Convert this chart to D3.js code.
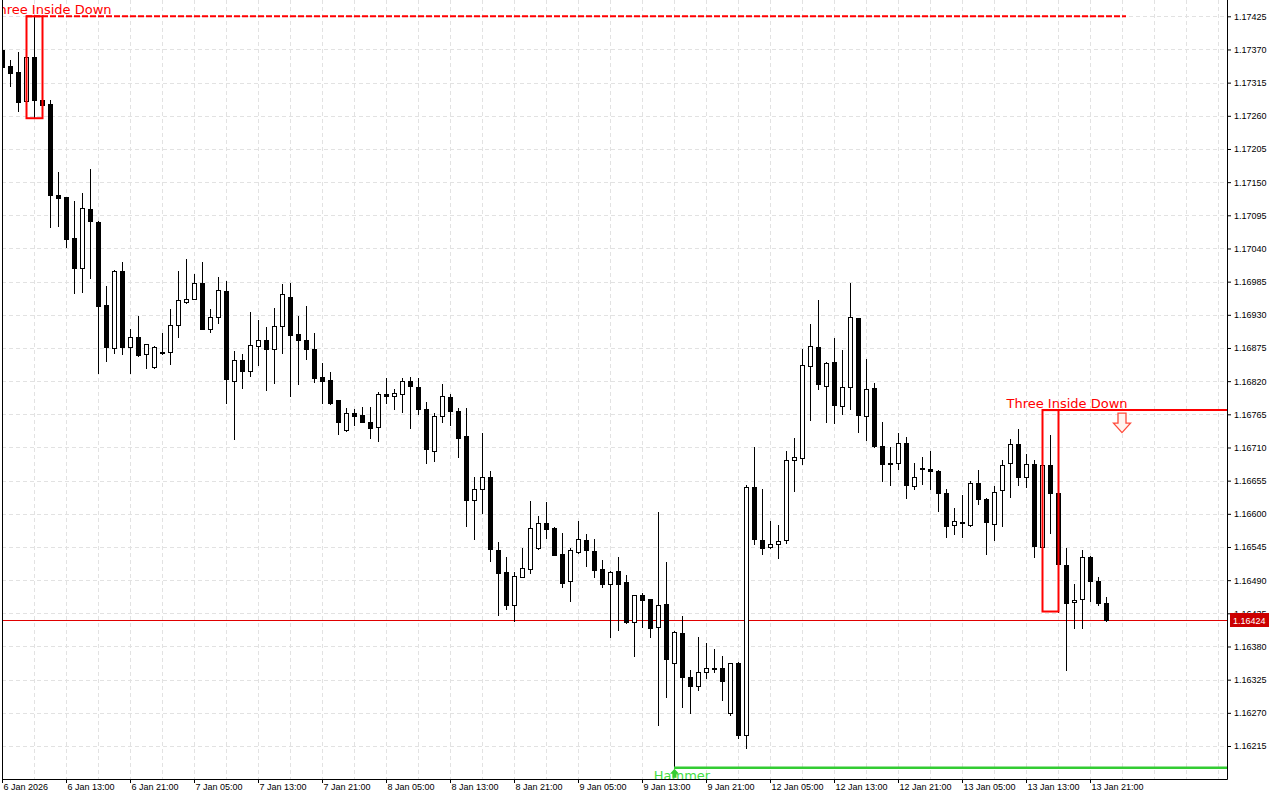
<!DOCTYPE html>
<html>
<head>
<meta charset="utf-8">
<script src="https://cdn.jsdelivr.net/npm/d3@7"></script>
<style>
    body { margin: 0; background: #fff; }
    svg { display: block; }
    .axis text { font-family: "Liberation Sans", Arial, sans-serif; font-size: 9px; fill: #000; }
    .axis line { stroke: #000; }
</style>
</head>
<body>
<script>
// EURUSD H1 candles
const opens = [
    1.17369, 1.17343, 1.17333, 1.17284, 1.17357, 1.17287, 1.17280, 1.17129, 1.17125, 1.17057,
    1.17008, 1.17105, 1.17084, 1.16946, 1.16875, 1.17002, 1.16876, 1.16893, 1.16865, 1.16843,
    1.16868, 1.16868, 1.16913, 1.16951, 1.16957, 1.16982, 1.16906, 1.16926, 1.16969, 1.16821,
    1.16855, 1.16837, 1.16878, 1.16889, 1.16873, 1.16911, 1.16959, 1.16898, 1.16889, 1.16874,
    1.16827, 1.16822, 1.16788, 1.16739, 1.16767, 1.16764, 1.16753, 1.16744, 1.16799, 1.16795,
    1.16798, 1.16820, 1.16810, 1.16773, 1.16705, 1.16763, 1.16793, 1.16770, 1.16729, 1.16623,
    1.16641, 1.16661, 1.16540, 1.16504, 1.16449, 1.16496, 1.16508, 1.16543, 1.16584, 1.16577,
    1.16533, 1.16488, 1.16537, 1.16556, 1.16538, 1.16508, 1.16483, 1.16505, 1.16487, 1.16420,
    1.16465, 1.16458, 1.16412, 1.16450, 1.16352, 1.16402, 1.16329, 1.16314, 1.16337, 1.16344,
    1.16344, 1.16269, 1.16352, 1.16234, 1.16644, 1.16556, 1.16545, 1.16550, 1.16556, 1.16689,
    1.16692, 1.16845, 1.16876, 1.16812, 1.16851, 1.16778, 1.16810, 1.16924, 1.16763, 1.16808,
    1.16712, 1.16682, 1.16685, 1.16717, 1.16646, 1.16676, 1.16674, 1.16671, 1.16634, 1.16581,
    1.16586, 1.16581, 1.16651, 1.16625, 1.16583, 1.16639, 1.16685, 1.16715, 1.16661, 1.16682,
    1.16545, 1.16681, 1.16634, 1.16515, 1.16453, 1.16458, 1.16528, 1.16488, 1.16452
];
const highs = [
    1.17374, 1.17352, 1.17366, 1.17368, 1.17425, 1.17385, 1.17286, 1.17166, 1.17126, 1.17119,
    1.17132, 1.17171, 1.17085, 1.16978, 1.17004, 1.17017, 1.16907, 1.16928, 1.16882, 1.16878,
    1.16900, 1.16940, 1.17003, 1.17023, 1.16997, 1.17017, 1.16939, 1.16992, 1.16986, 1.16870,
    1.16865, 1.16934, 1.16921, 1.16909, 1.16942, 1.16981, 1.16982, 1.16928, 1.16945, 1.16900,
    1.16850, 1.16835, 1.16789, 1.16776, 1.16773, 1.16777, 1.16777, 1.16802, 1.16825, 1.16807,
    1.16825, 1.16827, 1.16825, 1.16785, 1.16767, 1.16815, 1.16798, 1.16776, 1.16776, 1.16661,
    1.16734, 1.16671, 1.16553, 1.16528, 1.16503, 1.16544, 1.16622, 1.16596, 1.16620, 1.16578,
    1.16568, 1.16543, 1.16588, 1.16566, 1.16558, 1.16523, 1.16505, 1.16528, 1.16499, 1.16466,
    1.16468, 1.16459, 1.16603, 1.16520, 1.16405, 1.16430, 1.16341, 1.16396, 1.16386, 1.16376,
    1.16364, 1.16353, 1.16355, 1.16647, 1.16711, 1.16641, 1.16588, 1.16582, 1.16705, 1.16725,
    1.16874, 1.16915, 1.16954, 1.16851, 1.16891, 1.16872, 1.16982, 1.16925, 1.16856, 1.16817,
    1.16753, 1.16710, 1.16734, 1.16727, 1.16685, 1.16695, 1.16704, 1.16672, 1.16641, 1.16609,
    1.16632, 1.16654, 1.16672, 1.16626, 1.16646, 1.16689, 1.16724, 1.16740, 1.16700, 1.16689,
    1.16772, 1.16731, 1.16646, 1.16543, 1.16484, 1.16540, 1.16530, 1.16495, 1.16462
];
const lows = [
    1.17336, 1.17309, 1.17268, 1.17282, 1.17256, 1.17277, 1.17076, 1.17077, 1.17043, 1.16967,
    1.16968, 1.16991, 1.16834, 1.16854, 1.16866, 1.16865, 1.16834, 1.16861, 1.16841, 1.16842,
    1.16865, 1.16849, 1.16894, 1.16949, 1.16956, 1.16906, 1.16902, 1.16917, 1.16783, 1.16724,
    1.16808, 1.16829, 1.16846, 1.16806, 1.16817, 1.16866, 1.16796, 1.16816, 1.16857, 1.16819,
    1.16783, 1.16782, 1.16733, 1.16738, 1.16747, 1.16752, 1.16725, 1.16721, 1.16783, 1.16773,
    1.16769, 1.16743, 1.16766, 1.16685, 1.16688, 1.16753, 1.16748, 1.16695, 1.16579, 1.16558,
    1.16602, 1.16521, 1.16433, 1.16443, 1.16422, 1.16495, 1.16502, 1.16542, 1.16560, 1.16531,
    1.16479, 1.16456, 1.16535, 1.16514, 1.16496, 1.16479, 1.16396, 1.16408, 1.16419, 1.16365,
    1.16413, 1.16395, 1.16249, 1.16297, 1.16179, 1.16279, 1.16270, 1.16308, 1.16327, 1.16337,
    1.16291, 1.16267, 1.16228, 1.16212, 1.16550, 1.16533, 1.16544, 1.16526, 1.16552, 1.16638,
    1.16682, 1.16755, 1.16807, 1.16753, 1.16751, 1.16766, 1.16773, 1.16736, 1.16723, 1.16710,
    1.16655, 1.16648, 1.16675, 1.16627, 1.16641, 1.16649, 1.16641, 1.16604, 1.16561, 1.16566,
    1.16562, 1.16580, 1.16616, 1.16534, 1.16556, 1.16580, 1.16628, 1.16647, 1.16644, 1.16528,
    1.16497, 1.16568, 1.16438, 1.16341, 1.16410, 1.16411, 1.16456, 1.16448, 1.16422
];
const closes = [
    1.17341, 1.17331, 1.17283, 1.17357, 1.17286, 1.17278, 1.17128, 1.17123, 1.17056, 1.17008,
    1.17107, 1.17086, 1.16945, 1.16877, 1.17002, 1.16877, 1.16893, 1.16864, 1.16881, 1.16876,
    1.16866, 1.16913, 1.16954, 1.16957, 1.16982, 1.16907, 1.16926, 1.16971, 1.16824, 1.16855,
    1.16837, 1.16880, 1.16888, 1.16874, 1.16911, 1.16964, 1.16897, 1.16889, 1.16874, 1.16826,
    1.16821, 1.16783, 1.16753, 1.16767, 1.16763, 1.16753, 1.16743, 1.16798, 1.16796, 1.16800,
    1.16820, 1.16812, 1.16774, 1.16708, 1.16763, 1.16795, 1.16771, 1.16726, 1.16623, 1.16641,
    1.16661, 1.16541, 1.16502, 1.16448, 1.16497, 1.16510, 1.16576, 1.16584, 1.16575, 1.16532,
    1.16486, 1.16540, 1.16558, 1.16540, 1.16507, 1.16484, 1.16503, 1.16484, 1.16420, 1.16465,
    1.16457, 1.16410, 1.16448, 1.16359, 1.16404, 1.16329, 1.16314, 1.16337, 1.16344, 1.16343,
    1.16322, 1.16352, 1.16234, 1.16644, 1.16559, 1.16543, 1.16550, 1.16555, 1.16689, 1.16694,
    1.16846, 1.16878, 1.16815, 1.16850, 1.16781, 1.16810, 1.16926, 1.16764, 1.16807, 1.16713,
    1.16682, 1.16685, 1.16717, 1.16647, 1.16661, 1.16674, 1.16671, 1.16634, 1.16580, 1.16588,
    1.16584, 1.16651, 1.16624, 1.16586, 1.16636, 1.16681, 1.16715, 1.16661, 1.16682, 1.16547,
    1.16681, 1.16635, 1.16517, 1.16452, 1.16457, 1.16528, 1.16488, 1.16452, 1.16424
];

// time axis, one label every 8 bars
const xLabelBars = [0, 8, 16, 24, 32, 40, 48, 56, 64, 72, 80, 88, 96, 104, 112, 120, 128, 136];
const xLabels = ["6 Jan 2026", "6 Jan 13:00", "6 Jan 21:00", "7 Jan 05:00", "7 Jan 13:00", "7 Jan 21:00",
    "8 Jan 05:00", "8 Jan 13:00", "8 Jan 21:00", "9 Jan 05:00", "9 Jan 13:00", "9 Jan 21:00",
    "12 Jan 05:00", "12 Jan 13:00", "12 Jan 21:00", "13 Jan 05:00", "13 Jan 13:00", "13 Jan 21:00"];
const yTicks = [1.16215, 1.16270, 1.16325, 1.16380, 1.16435, 1.16490, 1.16545, 1.16600, 1.16655, 1.16710,
    1.16765, 1.16820, 1.16875, 1.16930, 1.16985, 1.17040, 1.17095, 1.17150, 1.17205, 1.17260,
    1.17315, 1.17370, 1.17425];

// detected patterns (first bar, last bar)
const patternNames = ["Three Inside Down", "Three Inside Down"];
const patternStart = [3, 130];
const patternEnd = [5, 132];
const hammerBar = 84;

const W = 1280, H = 800;
const plotLeft = 2, plotRight = 1227, plotBottom = 779;

const svg = d3.select("body").append("svg")
    .attr("width", W)
    .attr("height", H);

svg.append("rect").attr("width", W).attr("height", H).attr("fill", "#fff");

// scales: 8px per bar
const x = d3.scaleLinear().domain([0, 153]).range([2, 1226]);
const y = d3.scaleLinear().domain([1.16215, 1.17425]).range([746, 16.3]);

svg.append("defs").append("clipPath").attr("id", "plot")
    .append("rect").attr("x", plotLeft + 1).attr("y", 0)
    .attr("width", plotRight - plotLeft - 1).attr("height", plotBottom);

const plot = svg.append("g").attr("clip-path", "url(#plot)");

// grid
const grid = plot.append("g")
    .attr("stroke", "#e2e2e2")
    .attr("stroke-dasharray", "4,3")
    .attr("shape-rendering", "crispEdges");
grid.selectAll(".hg").data(yTicks).enter().append("line")
    .attr("x1", plotLeft).attr("x2", plotRight)
    .attr("y1", d => Math.round(y(d)) + 0.5).attr("y2", d => Math.round(y(d)) + 0.5);
grid.selectAll(".vg").data(d3.range(4, 153, 4)).enter().append("line")
    .attr("x1", d => x(d) + 0.5).attr("x2", d => x(d) + 0.5)
    .attr("y1", 0).attr("y2", plotBottom);

// last price line
const last = closes[closes.length - 1];
const lastY = Math.round(y(last)) + 0.5;
plot.append("line")
    .attr("x1", plotLeft).attr("x2", plotRight)
    .attr("y1", lastY).attr("y2", lastY)
    .attr("stroke", "#e00000");

// candles
const bars = d3.range(opens.length);
const candles = plot.append("g").attr("shape-rendering", "crispEdges");
bars.forEach(i => {
    const cx = x(i);
    const o = opens[i], c = closes[i];
    const top = Math.round(y(Math.max(o, c)));
    const bot = Math.round(y(Math.min(o, c)));
    candles.append("line")
        .attr("x1", cx + 0.5).attr("x2", cx + 0.5)
        .attr("y1", Math.round(y(highs[i]))).attr("y2", Math.round(y(lows[i])) + 1)
        .attr("stroke", "#000");
    if (c > o) {
        candles.append("rect")
            .attr("x", cx - 1.5).attr("y", top + 0.5)
            .attr("width", 4).attr("height", Math.max(bot - top, 1))
            .attr("fill", "#fff").attr("stroke", "#000");
    } else {
        candles.append("rect")
            .attr("x", cx - 2).attr("y", top)
            .attr("width", 5).attr("height", Math.max(bot - top, 1) + 1)
            .attr("fill", "#000");
    }
});

// pattern boxes, levels and labels
patternNames.forEach((name, k) => {
    const s = patternStart[k], e = patternEnd[k];
    const hi = d3.max(highs.slice(s, e + 1));
    const lo = d3.min(lows.slice(s, e + 1));
    const older = k < patternNames.length - 1;
    plot.append("rect")
        .attr("x", x(s) + 0.5).attr("y", y(hi))
        .attr("width", x(e) - x(s)).attr("height", y(lo) - y(hi))
        .attr("fill", "none").attr("stroke", "#ff0000").attr("stroke-width", 2);
    plot.append("line")
        .attr("x1", x(s)).attr("x2", x(s + 137.5))
        .attr("y1", y(hi)).attr("y2", y(hi))
        .attr("stroke", "#ff0000").attr("stroke-width", 2)
        .attr("stroke-dasharray", older ? "6,2" : null);
    plot.append("text")
        .attr("x", x(s + 3) + 1).attr("y", y(hi) - 2)
        .attr("text-anchor", "middle")
        .attr("font-family", "DejaVu Sans, sans-serif").attr("font-size", 13)
        .attr("fill", "#ff0000")
        .text(name);
    if (!older) {
        // sell arrow
        const ax = x(s + 10), ay = y(hi) + 3;
        plot.append("path")
            .attr("d", `M${ax - 4},${ay} h8 v10 h4.5 l-8.5,9.5 l-8.5,-9.5 h4.5 Z`)
            .attr("fill", "#fff4f0").attr("stroke", "#ff4a3a").attr("stroke-width", 1.3);
    }
});

// hammer
const hamY = y(lows[hammerBar]);
plot.append("line")
    .attr("x1", x(hammerBar)).attr("x2", x(hammerBar + 137.5))
    .attr("y1", hamY).attr("y2", hamY)
    .attr("stroke", "#33cc33").attr("stroke-width", 2.5);
plot.append("text")
    .attr("x", x(hammerBar + 1)).attr("y", hamY + 12)
    .attr("text-anchor", "middle")
    .attr("font-family", "DejaVu Sans, sans-serif").attr("font-size", 13)
    .attr("fill", "#44dd44")
    .text("Hammer");
const hx = x(hammerBar) + 0.5;
plot.append("path")
    .attr("d", `M${hx},${hamY + 1} l4.5,5 h-2.5 v4 h-4 v-4 h-2.5 Z`)
    .attr("fill", "#33cc33");

// axes
const yAxis = d3.axisRight(y).tickValues(yTicks).tickSize(4).tickFormat(d3.format(".5f"));
svg.append("g").attr("class", "axis")
    .attr("transform", `translate(${plotRight},0)`)
    .call(yAxis)
    .call(g => g.select(".domain").remove());

const xAxis = d3.axisBottom(x).tickValues(xLabelBars).tickSize(4).tickFormat((d, i) => xLabels[i]);
svg.append("g").attr("class", "axis")
    .attr("transform", `translate(0,${plotBottom})`)
    .call(xAxis)
    .call(g => g.select(".domain").remove())
    .call(g => g.selectAll("text").attr("text-anchor", "start").attr("x", 1).attr("y", 5));

// frame
svg.append("path")
    .attr("d", `M${plotLeft + 0.5},0 V${plotBottom + 0.5} H${plotRight + 0.5} V0`)
    .attr("fill", "none").attr("stroke", "#000");

// last price tag
svg.append("rect")
    .attr("x", 1230).attr("y", lastY - 7.5)
    .attr("width", 39).attr("height", 14)
    .attr("fill", "#cc0000");
svg.append("text")
    .attr("x", 1233).attr("y", lastY)
    .attr("dy", "0.34em")
    .attr("font-family", "Liberation Sans, Arial, sans-serif").attr("font-size", 9)
    .attr("fill", "#fff")
    .text(d3.format(".5f")(last));
</script>
</body>
</html>
